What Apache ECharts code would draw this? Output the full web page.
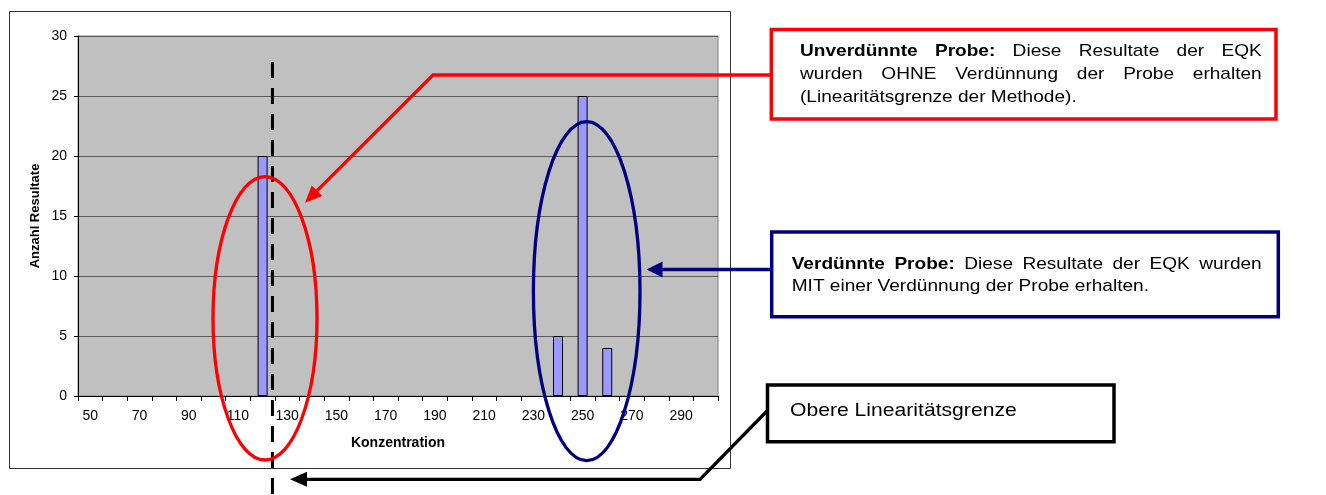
<!DOCTYPE html>
<html><head><meta charset="utf-8">
<script src="https://cdn.jsdelivr.net/npm/echarts@6/dist/echarts.min.js"></script>
<style>html,body{margin:0;padding:0;background:#fff}#c{width:1326px;height:495px}</style>
</head><body><div id="c"></div>
<script>
// ---- data ----
const categories = ['50','60','70','80','90','100','110','120','130','140','150','160','170','180','190','200','210','220','230','240','250','260','270','280','290','300'];
const counts     = [0,0,0,0,0,0,0,20,0,0,0,0,0,0,0,0,0,0,0,5,25,4,0,0,0,0];
const yMin = 0, yMax = 30, yStep = 5;
const xTitle = 'Konzentration';
const yTitle = 'Anzahl Resultate';
const limitValue = 124; // Obere Linearitätsgrenze (concentration)
const redText = [
  [{t:'Unverdünnte',b:1},{t:'Probe:',b:1},{t:'Diese'},{t:'Resultate'},{t:'der'},{t:'EQK'}],
  [{t:'wurden'},{t:'OHNE'},{t:'Verdünnung'},{t:'der'},{t:'Probe'},{t:'erhalten'}],
  [{t:'(Linearitätsgrenze'},{t:'der'},{t:'Methode).'}]
];
const blueText = [
  [{t:'Verdünnte',b:1},{t:'Probe:',b:1},{t:'Diese'},{t:'Resultate'},{t:'der'},{t:'EQK'},{t:'wurden'}],
  [{t:'MIT'},{t:'einer'},{t:'Verdünnung'},{t:'der'},{t:'Probe'},{t:'erhalten.'}]
];
const blackText = [
  [{t:'Obere'},{t:'Linearitätsgrenze'}]
];

const FF = '"Liberation Sans", Arial, sans-serif';
const chart = echarts.init(document.getElementById('c'), null, {renderer:'canvas'});

const option = {
  animation: false,
  backgroundColor: '#fff',
  grid: {left: 78, top: 36, right: 608, bottom: 99, show: true, backgroundColor: '#C0C0C0', borderColor: '#808080', borderWidth: 1},
  xAxis: {
    type: 'category', data: categories, boundaryGap: true,
    name: xTitle, nameLocation: 'middle', nameGap: 40,
    nameTextStyle: {fontFamily: FF, fontSize: 14, fontWeight: 'bold', color: '#000'},
    axisLine: {lineStyle: {color: '#000', width: 1}},
    axisTick: {show: true, interval: 0, alignWithLabel: false, length: 5, lineStyle: {color: '#000'}},
    axisLabel: {interval: 1, margin: 13, fontFamily: FF, fontSize: 14, color: '#000'},
    splitLine: {show: false}
  },
  yAxis: {
    type: 'value', min: yMin, max: yMax, interval: yStep,
    name: yTitle, nameLocation: 'middle', nameGap: 36, nameRotate: 90,
    nameTextStyle: {fontFamily: FF, fontSize: 13, fontWeight: 'bold', color: '#000'},
    axisLine: {show: true, lineStyle: {color: '#000', width: 1}},
    axisTick: {show: true, length: 4, lineStyle: {color: '#000'}},
    axisLabel: {margin: 11, fontFamily: FF, fontSize: 14, color: '#000'},
    splitLine: {show: true, lineStyle: {color: '#5A5A5A', width: 1}}
  },
  series: [{
    type: 'bar', data: counts.map(v => (v === 0 ? null : v)), barWidth: 10,
    itemStyle: {color: '#9999FF', borderColor: '#000', borderWidth: 1}
  }]
};
chart.setOption(option);

// ---- annotations ----
const ctx = document.createElement('canvas').getContext('2d');
function measure(txt, bold, fs) {
  ctx.font = (bold ? 'bold ' : '') + fs + 'px "Liberation Sans"';
  return ctx.measureText(txt).width;
}
function lineNatural(words, fs) {
  let w = 0;
  words.forEach((wd, i) => { w += measure(wd.t, wd.b, fs); if (i) w += measure(' ', false, fs); });
  return w;
}
function textBlock(lines, fs, x0, baselines, s, justifyRight) {
  const els = [];
  lines.forEach((words, li) => {
    const ws = words.map(wd => measure(wd.t, wd.b, fs) * s);
    const sp = measure(' ', false, fs) * s;
    let gap = sp;
    const isJust = justifyRight && li < lines.length - 1;
    if (isJust) {
      const sum = ws.reduce((a, b) => a + b, 0);
      gap = (justifyRight - x0 - sum) / (words.length - 1);
    }
    let x = x0;
    words.forEach((wd, i) => {
      els.push({
        type: 'text', x: x, y: baselines[li] - 0.35 * fs, scaleX: s, z: 120,
        style: {text: wd.t, fontFamily: FF, fontSize: fs, fontWeight: wd.b ? 'bold' : 'normal',
                fill: '#000', align: 'left', verticalAlign: 'middle'}
      });
      x += ws[i] + gap;
    });
  });
  return els;
}
function arrow(points, color, lw, headLen, headHalf) {
  const n = points.length;
  const T = points[n - 1], P = points[n - 2];
  const dx = T[0] - P[0], dy = T[1] - P[1];
  const L = Math.hypot(dx, dy), ux = dx / L, uy = dy / L;
  const base = [T[0] - ux * headLen, T[1] - uy * headLen];
  const pts = points.slice(0, n - 1).concat([[base[0] + ux * 1, base[1] + uy * 1]]);
  return [
    {type: 'polyline', z: 110, shape: {points: pts}, style: {stroke: color, lineWidth: lw, fill: null, lineJoin: 'miter'}},
    {type: 'polygon', z: 111, shape: {points: [T, [base[0] - uy * headHalf, base[1] + ux * headHalf], [base[0] + uy * headHalf, base[1] - ux * headHalf]]},
     style: {fill: color, stroke: null}}
  ];
}

const x120 = chart.convertToPixel({xAxisIndex: 0}, '120');
const x130 = chart.convertToPixel({xAxisIndex: 0}, '130');
const limitX = x120 + (x130 - x120) * (limitValue - 120) / 10;

const sRed = 276.7 / lineNatural(redText[2], 17);
const sBlack = 226.7 / lineNatural(blackText[0], 19);

let g = [];
// outer chart border
g.push({type: 'rect', z: 1, shape: {x: 9.5, y: 11.5, width: 721, height: 457}, style: {fill: null, stroke: '#333', lineWidth: 1}});
// dashed limit line
g.push({type: 'line', z: 105, shape: {x1: limitX, y1: 62, x2: limitX, y2: 495}, style: {stroke: '#000', lineWidth: 3, lineDash: [16, 10]}});
// ellipses
g.push({type: 'ellipse', z: 106, shape: {cx: 265, cy: 318.3, rx: 52, ry: 141.7}, style: {fill: null, stroke: '#FF0000', lineWidth: 3.3}});
g.push({type: 'ellipse', z: 106, shape: {cx: 586.7, cy: 291.2, rx: 53.3, ry: 169.5}, style: {fill: null, stroke: '#000080', lineWidth: 3.3}});
// boxes
g.push({type: 'rect', z: 108, shape: {x: 771.3, y: 29.5, width: 504.7, height: 89.5}, style: {fill: '#fff', stroke: '#FF0000', lineWidth: 3.5}});
g.push({type: 'rect', z: 108, shape: {x: 771.7, y: 232, width: 506.6, height: 84.7}, style: {fill: '#fff', stroke: '#000080', lineWidth: 3.5}});
g.push({type: 'rect', z: 108, shape: {x: 767.5, y: 385, width: 346.5, height: 56.7}, style: {fill: '#fff', stroke: '#000', lineWidth: 3.5}});
// connectors
g = g.concat(arrow([[771, 75], [433, 75], [305, 202.7]], '#FF0000', 3.3, 17, 7.5));
g = g.concat(arrow([[771, 269.5], [646.5, 269.5]], '#000080', 3.5, 16, 8));
g = g.concat(arrow([[767.5, 410.5], [700, 479.3], [290, 479.3]], '#000', 3.3, 17, 7.5));
// texts
g = g.concat(textBlock(redText, 17, 800, [57.7, 80.7, 103.3], sRed, 1261.7));
g = g.concat(textBlock(blueText, 17, 791.7, [270.7, 292.3], sRed, 1261.7));
g = g.concat(textBlock(blackText, 19, 790, [417.3], sBlack, null));

chart.setOption({graphic: {elements: g}});
</script>
</body></html>
